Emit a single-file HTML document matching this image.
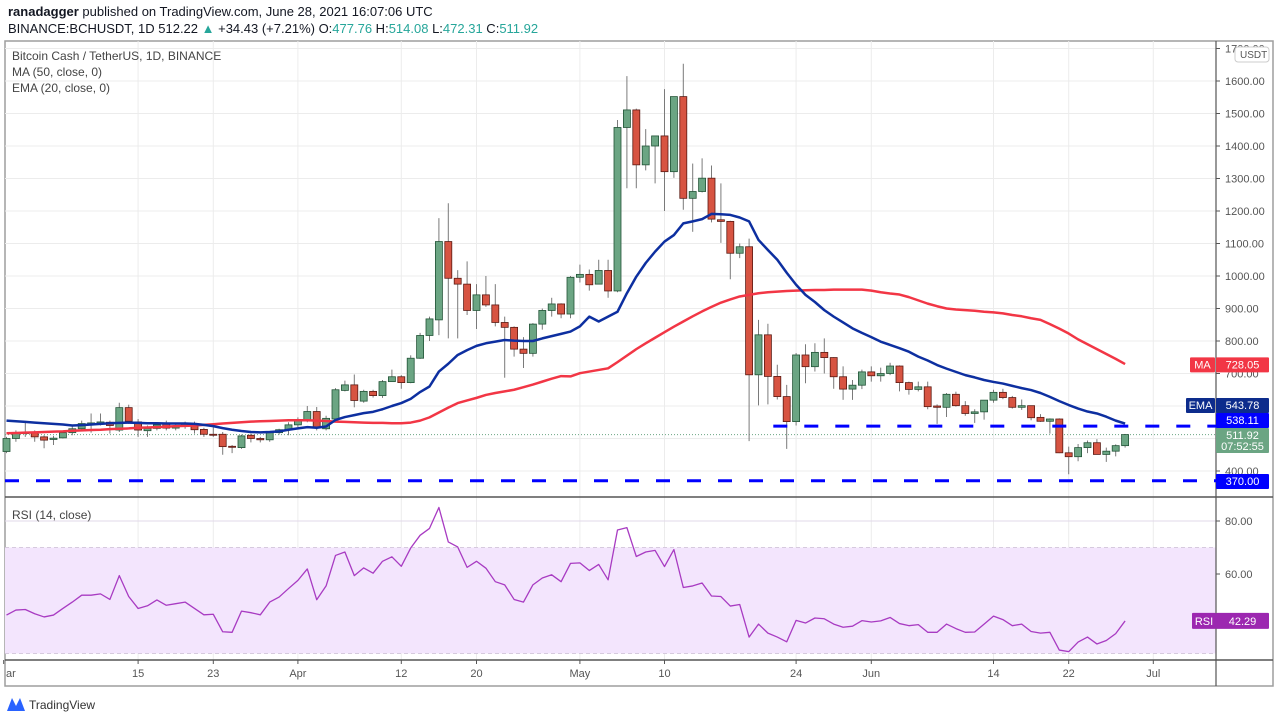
<!DOCTYPE html>
<html><head><meta charset="utf-8">
<style>
body{margin:0;background:#fff;font-family:"Liberation Sans",sans-serif;}
#wrap{position:relative;width:1280px;height:721px;overflow:hidden;background:#fff;}
svg text{font-family:"Liberation Sans",sans-serif;}
</style></head><body>
<div id="wrap">
<svg id="chart" width="1280" height="721"></svg>
</div>
<script>
// ---- data ----
const opens=[460,500,515,520,505,497,502,518,530,545,547,550,526,595,551,524,531,545,532,537,545,528,513,513,476,472,510,500,496,518,527,542,557,583,530,560,648,665,615,645,632,675,690,672,747,817,865,1106,993,975,894,942,911,857,842,775,762,852,894,914,883,996,1005,975,1017,954,1457,1511,1342,1400,1431,1321,1552,1239,1260,1301,1173,1168,1070,1090,696,819,691,629,552,757,721,765,749,690,652,664,705,693,700,723,672,651,659,600,596,636,601,577,582,618,642,626,596,601,565,553,560,456,444,472,487,451,461,478];
const closes=[500,517,520,505,495,501,518,530,546,548,551,540,595,553,526,531,542,532,537,545,527,513,512,475,474,508,500,496,518,527,542,557,583,532,562,650,665,617,645,632,675,690,672,747,817,868,1106,993,975,894,942,911,857,842,775,762,852,894,914,883,996,1005,973,1017,954,1457,1511,1342,1400,1431,1321,1552,1239,1260,1301,1175,1168,1070,1090,696,819,691,629,552,757,721,765,749,690,652,664,705,693,700,723,672,651,659,598,596,636,601,577,582,618,642,626,596,601,564,553,560,456,444,472,487,451,461,478,512];
const highs=[505,525,548,525,510,508,522,540,555,577,577,555,610,604,560,540,548,555,548,552,552,533,538,520,480,512,515,505,520,530,550,565,600,597,570,655,678,697,650,650,680,712,695,756,825,875,1178,1224,1018,1045,975,1000,975,875,845,812,855,900,933,916,1000,1035,1020,1050,1050,1480,1615,1515,1452,1431,1575,1552,1653,1346,1362,1340,1285,1170,1100,1115,865,853,727,665,763,790,793,808,750,722,680,712,722,718,733,725,675,675,675,605,640,644,615,590,618,650,653,631,620,601,575,562,562,475,483,494,498,472,482,514];
const lows=[455,490,505,490,470,480,500,510,525,518,540,515,520,545,505,505,525,525,525,530,515,505,505,450,455,468,488,488,490,512,510,535,550,525,525,560,645,596,610,626,625,675,653,670,745,800,818,808,808,880,837,905,845,687,752,717,752,835,875,870,870,980,955,975,933,950,1270,1270,1325,1285,1200,1302,1204,1136,1257,1165,1102,990,1055,492,602,605,620,468,540,670,706,700,653,619,619,652,675,675,695,645,635,645,590,545,566,598,570,548,558,610,621,592,588,556,551,515,455,390,430,455,451,428,445,472];
const ema20=[555,553,551,549,547,545,543,540,541,543,545,547,548,549,548,547,547,546,546,546,545,542,538,532,527,523,520,519,520,522,527,531,535,533,537,557,566,572,578,582,590,600,609,622,643,660,706,730,757,772,785,793,798,803,801,800,800,808,815,822,829,845,875,860,875,890,947,998,1040,1075,1106,1126,1162,1168,1175,1191,1190,1188,1180,1168,1111,1080,1050,1010,973,942,920,895,875,857,839,825,812,798,788,778,767,752,740,726,715,705,695,688,680,674,669,662,655,649,640,628,615,603,592,583,577,567,555,546];
const ma50=[516,517,518,519,520,521,522,524,525,526,527,529,530,531,533,534,535,536,538,539,540,542,544,546,548,550,552,553,554,555,556,556,556,555,554,552,551,550,549,548,548,547,547,549,555,565,580,595,609,617,625,634,640,645,650,658,666,675,684,692,691,701,706,711,716,735,755,775,793,810,827,844,860,876,891,905,918,928,937,942,947,950,952,954,955,956,957,957,958,958,958,958,955,950,946,943,935,925,915,907,900,897,895,893,890,888,885,880,876,870,865,852,838,823,805,790,775,760,745,729];
const rsi=[44.5,46.4,46.6,45,43.8,44.5,47,49.4,52,52,52.5,50.4,59.4,51.5,47,48,50.2,48.2,48.8,49.4,47,44.6,44.8,38.2,38,46,45.4,44.6,49.4,51.3,54.5,57.6,61.9,50.3,55.5,67,68.3,59.4,62.3,60.3,64.8,66.5,62.9,69.8,74.6,77.2,85.1,72.1,70.2,62.5,64.8,62.2,57.1,55.9,50.4,49.4,55.9,58.5,59.7,57.1,64,64.2,61.3,63.6,57.8,76.6,77.5,66.6,68.3,68.9,62.8,69.2,54.9,55.5,56.6,51.7,51.5,47.9,48.5,36.2,41.1,37.7,36.2,34.4,42.5,41.5,43.4,43.1,41.1,39.9,40.3,42.4,41.9,42.3,43.6,41.3,40.5,40.9,38,38,41.1,39.4,38,38.1,41.1,44.1,42.8,40.5,41.1,38.3,37.7,38,31.3,30.7,34.3,36.2,33.6,34.9,37.5,42.29];
const priceTicks=[400,500,600,700,800,900,1000,1100,1200,1300,1400,1500,1600,1700];
const rsiTicks=[60,80];
const dateLabels=["ar","15","23","Apr","12","20","May","10","24","Jun","14","22","Jul"];
const dateIdx=[-0.3,14,22,31,42,50,61,70,84,92,105,113,122];
const support=370, resistance=538.11, lastPrice=511.92;

// ---- scales ----
const PL=5, PR=1216, PT=41, PB=497, RT=497, RB=660, TB=686;
const xI=i=>6.5+i*9.4;
const yP=p=>471-(p-400)*0.325;
const yR=v=>521+(80-v)*2.65;

const NS="http://www.w3.org/2000/svg";
const svg=document.getElementById('chart');
function mk(tag,attrs,parent){const e=document.createElementNS(NS,tag);for(const k in attrs)e.setAttribute(k,attrs[k]);(parent||svg).appendChild(e);return e;}

// header
let t=mk('text',{x:8,y:16,'font-size':13,fill:'#131722'});


t.innerHTML='<tspan font-weight="bold">ranadagger</tspan> published on TradingView.com, June 28, 2021 16:07:06 UTC';
t=mk('text',{x:8,y:33,'font-size':13,fill:'#131722'});


t.innerHTML='BINANCE:BCHUSDT, 1D  512.22 <tspan fill="#26a69a">▲</tspan> +34.43 (+7.21%) O:<tspan fill="#26a69a">477.76</tspan> H:<tspan fill="#26a69a">514.08</tspan> L:<tspan fill="#26a69a">472.31</tspan> C:<tspan fill="#26a69a">511.92</tspan>';

// frame
let fr=mk('rect',{x:PL,y:PT,width:1273-PL,height:TB-PT,fill:'none',stroke:'#9e9e9e','stroke-width':1.5});



// grid
const g=mk('g',{});


priceTicks.forEach(p=>{const y=yP(p);if(y>PT&&y<PB)mk('line',{x1:PL,x2:PR,y1:y,y2:y,stroke:'#ececec'},g);});
dateIdx.forEach(i=>{const x=xI(i);if(x>PL&&x<PR)mk('line',{x1:x,x2:x,y1:PT,y2:RB,stroke:'#ececec'},g);});
// RSI band
let band=mk('rect',{x:PL,y:yR(70),width:PR-PL,height:yR(30)-yR(70),fill:'#f3e5fd'});


[80,60,40].forEach(v=>mk('line',{x1:PL,x2:PR,y1:yR(v),y2:yR(v),stroke:'#e2d8ea'},g));
[70,50,30].forEach(v=>mk('line',{x1:PL,x2:PR,y1:yR(v),y2:yR(v),stroke:'#b8b0bf','stroke-dasharray':'4,3'},g));

// separators
mk('line',{x1:PL,x2:1273,y1:PB,y2:PB,stroke:'#555','stroke-width':1.5});
mk('line',{x1:PL,x2:1273,y1:RB,y2:RB,stroke:'#555','stroke-width':1.5});
mk('line',{x1:PR,x2:PR,y1:PT,y2:TB,stroke:'#555','stroke-width':1.2});

// legend text
[['Bitcoin Cash / TetherUS, 1D, BINANCE',60,'title'],['MA (50, close, 0)',76,'ma-legend'],['EMA (20, close, 0)',92,'ema-legend']].forEach(([s,y,n])=>{
 const e=mk('text',{x:12,y:y,'font-size':12,fill:'#444'});e.textContent=s;
 
 
});
let rl=mk('text',{x:12,y:519,'font-size':12,fill:'#444'});rl.textContent='RSI (14, close)';



// last price dotted line
mk('line',{x1:PL,x2:PR,y1:yP(lastPrice),y2:yP(lastPrice),stroke:'#6ba583','stroke-dasharray':'1,2'});

// candles
const cg=mk('g',{});


for(let i=0;i<closes.length;i++){
 const x=xI(i),up=closes[i]>=opens[i];
 mk('line',{x1:x,x2:x,y1:yP(highs[i]),y2:yP(lows[i]),stroke:'#7a7a7a','stroke-width':1},cg);
 const yt=yP(Math.max(opens[i],closes[i])),yb=yP(Math.min(opens[i],closes[i]));
 const r=mk('rect',{x:x-3.5,y:yt,width:7,height:Math.max(1,yb-yt),fill:up?'#6ba583':'#d75442',stroke:up?'#225437':'#5b1a13','stroke-width':0.8},cg);
 
 
}
// MA & EMA
function pl(arr,sc,color,w,name){
 const p=mk('polyline',{points:arr.map((v,i)=>xI(i)+','+sc(v)).join(' '),fill:'none',stroke:color,'stroke-width':w,'stroke-linejoin':'round'});
 
 
}
pl(ma50,yP,'#f23645',2.5,'ma50-line');
pl(ema20,yP,'#0d2fa0',2.5,'ema20-line');

// horizontal levels
let l1=mk('line',{x1:PL,x2:PR,y1:yP(support),y2:yP(support),stroke:'#0000ff','stroke-width':3,'stroke-dasharray':'14,17'});


let l2=mk('line',{x1:xI(82)-4,x2:PR,y1:yP(resistance),y2:yP(resistance),stroke:'#0000ff','stroke-width':3,'stroke-dasharray':'14,17'});



// RSI line
pl(rsi,yR,'#a83bc2',1.3,'rsi-line');

// price axis labels
priceTicks.forEach(p=>{const y=yP(p);if(y<PT||y>PB)return;
 mk('line',{x1:PR,x2:PR+4,y1:y,y2:y,stroke:'#555'});
 const e=mk('text',{x:PR+9,y:y+4,'font-size':11,fill:'#555'});e.textContent=p.toFixed(2);
 
 
});
let ub=mk('rect',{x:1235,y:47,width:34,height:15,rx:3,fill:'#fff',stroke:'#ccc'});
let ut=mk('text',{x:1240,y:58,'font-size':10,fill:'#555'});ut.textContent='USDT';


rsiTicks.forEach(v=>{const y=yR(v);
 mk('line',{x1:PR,x2:PR+4,y1:y,y2:y,stroke:'#555'});
 const e=mk('text',{x:PR+9,y:y+4,'font-size':11,fill:'#555'});e.textContent=v.toFixed(2);
 
 
});
// time axis
dateLabels.forEach((s,k)=>{const x=xI(dateIdx[k]);if(x>PR)return;
 mk('line',{x1:x,x2:x,y1:RB,y2:RB+4,stroke:'#555'});
 const e=mk('text',{x:x,y:RB+17,'font-size':11,fill:'#555','text-anchor':k===0?'start':'middle'});e.textContent=s;
 if(k===0)e.setAttribute('x',PL+1);
 
 
});

// value badges
function badge(x,y,w,h,fill,txt,name,tc){
 const gg=mk('g',{});
 
 
 mk('rect',{x:x,y:y,width:w,height:h,fill:fill,rx:1},gg);
 txt.forEach(([s,dy])=>{const e=mk('text',{x:x+w/2,y:y+dy,'font-size':11,fill:tc||'#fff','text-anchor':'middle'},gg);e.textContent=s;});
}
badge(1190,yP(728.05)-7,25,15,'#f23645',[['MA',11]],'ma-tag');
badge(PR,yP(728.05)-7,53,15,'#f23645',[['728.05',11]],'ma-value');
badge(1186,398,29,15,'#0d2c8c',[['EMA',11]],'ema-tag');
badge(PR,398,53,15,'#0d2c8c',[['543.78',11]],'ema-value');
badge(PR,413,53,15,'#0000ff',[['538.11',11]],'resistance-value');
badge(PR,428,53,25,'#6ba583',[['511.92',11],['07:52:55',22]],'last-price-value');
badge(PR,474,53,15,'#0000ff',[['370.00',11]],'support-value');
badge(1192,yR(42.29)-8,24,16,'#9c27b0',[['RSI',12]],'rsi-tag');
badge(PR,yR(42.29)-8,53,16,'#9c27b0',[['42.29',12]],'rsi-value');

// footer logo
const lg=mk('g',{});


mk('path',{d:'M7 711 L12 698 L16 706 L20 698 L25 711 Z',fill:'#2962ff'},lg);
const lt=mk('text',{x:29,y:709,'font-size':12,fill:'#333'},lg);lt.textContent='TradingView';
</script>
</body></html>
